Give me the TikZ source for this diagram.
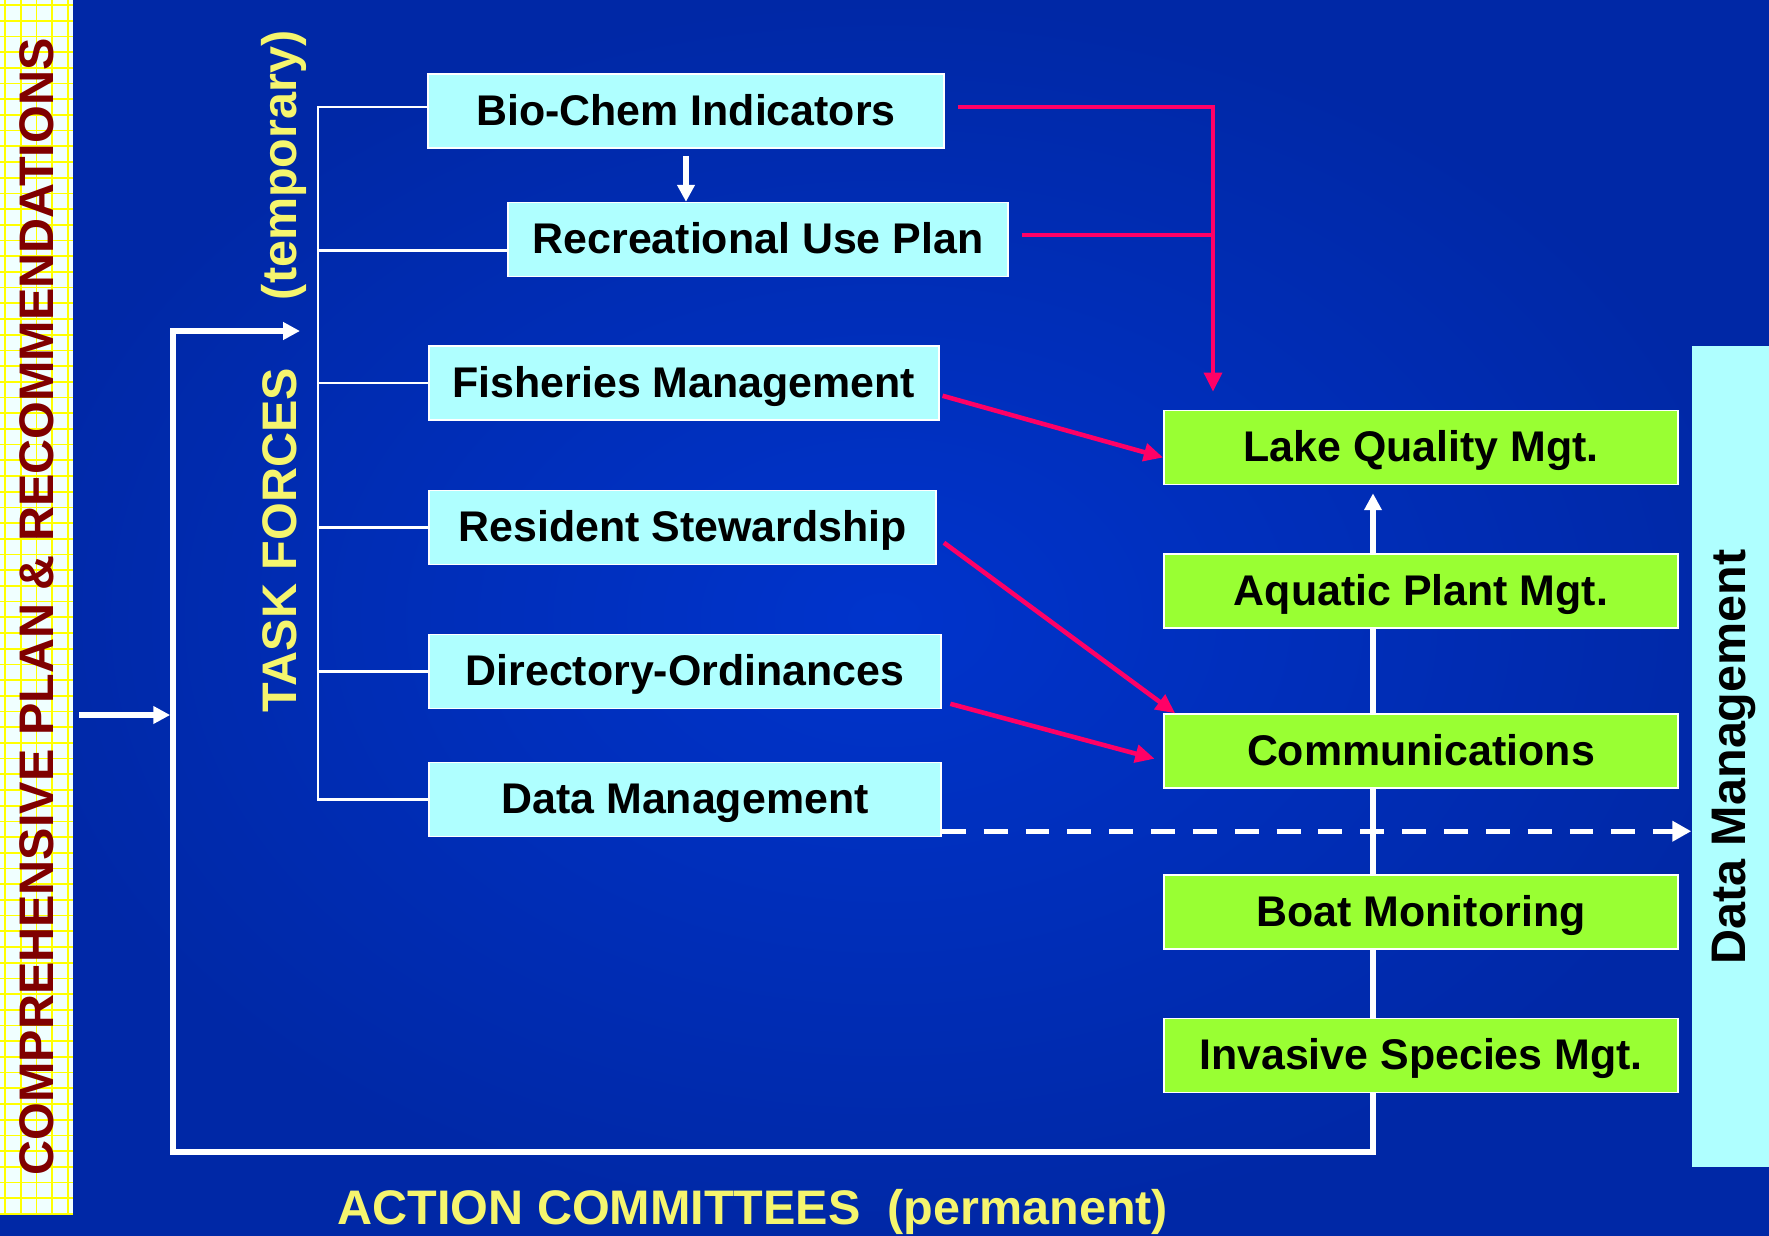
\documentclass[tikz,border=0pt]{standalone}
\usepackage{fontspec}
\setmainfont{Liberation Sans}
\usetikzlibrary{arrows.meta,backgrounds}

\definecolor{slidecore}{RGB}{0,52,204}
\definecolor{slideedge}{RGB}{0,40,166}
\definecolor{taskcyan}{RGB}{175,255,255}
\definecolor{actiongreen}{RGB}{153,255,51}
\definecolor{linkred}{RGB}{255,0,102}
\definecolor{labelyellow}{RGB}{245,245,110}
\definecolor{planred}{RGB}{128,0,0}
\definecolor{gridbase}{RGB}{240,255,255}
\definecolor{gridyellow}{RGB}{255,255,0}

\newcommand{\boxfont}{\fontsize{12.2}{14}\selectfont\bfseries}
\newcommand{\headfont}{\fontsize{13.8}{16}\selectfont\bfseries}

\tikzset{
  taskbox/.style={draw=white, line width=0.4pt, fill=taskcyan, minimum height=0.74cm, inner sep=0pt, text height=0.95em, text depth=0.15em, font=\boxfont},
  actionbox/.style={draw=white, line width=0.4pt, fill=actiongreen, minimum width=5.14cm, minimum height=0.74cm, inner sep=0pt, text height=0.95em, text depth=0.15em, font=\boxfont},
  branch/.style={draw=white, line width=0.6pt},
  whitearrow/.style={draw=white, line width=1.5pt, -{Triangle[length=4.8pt,width=4.8pt]}},
  redline/.style={draw=linkred, line width=1.3pt},
  redarrow/.style={redline, -{Triangle[length=5.5pt,width=5pt]}},
  gridline/.style={draw=gridyellow, line width=0.5pt},
}

\begin{document}
\begin{tikzpicture}[x=0.01cm, y=-0.01cm]
    \useasboundingbox (0,0) rectangle (1769,1236);
    \begin{scope}[on background layer]
        \shade[inner color=slidecore, outer color=slideedge] (0,0) rectangle (1769,1236);
    \end{scope}

    % left strip
    \node[fill=gridbase, minimum width=0.73cm, minimum height=12.15cm, inner sep=0pt] (plan) at (36.5,607.5) {};
    \foreach \gx in {5,20.7,...,72}
        \draw[gridline] (\gx,0) -- (\gx,1215);
    \foreach \gy in {5,20.7,...,1215}
        \draw[gridline] (0,\gy) -- (73,\gy);
    \node[rotate=90, text=planred, font=\headfont, inner sep=0pt] (plantext) at (37,607) {COMPREHENSIVE PLAN \& RECOMMENDATIONS};

    % task forces
    \node[taskbox, minimum width=5.16cm] (bio) at (686,111) {Bio-Chem Indicators};
    \node[taskbox, minimum width=5.00cm] (rec) at (758,239.5) {Recreational Use Plan};
    \node[taskbox, minimum width=5.10cm] (fish) at (684,383) {Fisheries Management};
    \node[taskbox, minimum width=5.07cm] (res) at (682.5,527.5) {Resident Stewardship};
    \node[taskbox, minimum width=5.12cm] (dir) at (685,671.5) {Directory-Ordinances};
    \node[taskbox, minimum width=5.12cm] (dm) at (685,799.5) {Data Management};

    % action committees
    \node[actionbox] (lake) at (1421,447.5) {Lake Quality Mgt.};
    \node[actionbox] (aqua) at (1421,591) {Aquatic Plant Mgt.};
    \node[actionbox] (comm) at (1421,751) {Communications};
    \node[actionbox] (boat) at (1421,912) {Boat Monitoring};
    \node[actionbox] (inv) at (1421,1055.5) {Invasive Species Mgt.};

    % data management panel
    \node[fill=taskcyan, minimum width=0.78cm, minimum height=8.21cm, inner sep=0pt] (dmpanel) at (1731,756.5) {};
    \node[rotate=90, font=\headfont, inner sep=0pt] (dmtext) at (1734,757) {Data Management};

    % labels
    \node[rotate=90, anchor=base west, text=labelyellow, font=\headfont, inner sep=0pt] (tflabel) at (296,713) {TASK FORCES\hspace{0.68cm}(temporary)};
    \node[anchor=base west, text=labelyellow, font=\headfont, inner sep=0pt] (aclabel) at (337,1224) {ACTION COMMITTEES\hspace{0.27cm}(permanent)};

    % task force tree
    \coordinate (trunk) at (318,0);
    \draw[branch] ([yshift=0.04cm]bio.west) coordinate (bioin) -| (trunk |- dm.west) -- (dm.west);
    \draw[branch] ([yshift=-0.11cm]rec.west) coordinate (recin) -- (recin -| trunk);
    \foreach \tf in {fish,res,dir}
        \draw[branch] (\tf.west) -- (\tf.west -| trunk);
    \draw[whitearrow, shorten <=2pt] (bio.south) -- (bio.south |- rec.north);

    % main loop
    \coordinate (tfin) at (300,331);
    \coordinate (loopbl) at (173,1152);
    \coordinate (loopbr) at (1373,1152);
    \coordinate (planout) at (79,715);
    \begin{scope}[on background layer]
        \draw[draw=white, line width=1.6pt, {Triangle[length=4.8pt,width=4.8pt]}-{Triangle[length=4.8pt,width=4.8pt]}, shorten >=2.3pt]
            (tfin) -| (loopbl) -- (loopbr) -- (loopbr |- lake.south);
    \end{scope}
    \draw[whitearrow, shorten >=0.8pt] (planout) -- (planout -| loopbl);

    % red links
    \coordinate (merge) at (1213,0);
    \draw[redarrow, shorten <=3.7pt, shorten >=5.1pt] ([yshift=0.04cm]bio.east) -| (merge |- lake.north);
    \draw[redline, shorten <=3.7pt] ([yshift=0.045cm]rec.east) coordinate (recout) -- ([xshift=0.65pt]recout -| merge);
    \draw[redarrow, shorten <=0.8pt] ([yshift=-0.12cm]fish.east) -- ([yshift=-0.1cm]lake.west);
    \draw[redarrow, shorten <=2.5pt] ([yshift=-0.1cm]res.east) -- ([xshift=0.12cm]comm.north west);
    \draw[redarrow, shorten <=2.5pt, shorten >=2.5pt] ([yshift=-0.3cm]dir.east) -- ([yshift=-0.1cm]comm.west);

    % data flow
    \draw[draw=white, line width=1.4pt, dash pattern=on 6.8pt off 5.1pt, -{Triangle[length=5.4pt,width=5.6pt]}]
        ([yshift=0.06cm]dm.south east) coordinate (dmout) -- (dmout -| dmpanel.west);
\end{tikzpicture}
\end{document}
